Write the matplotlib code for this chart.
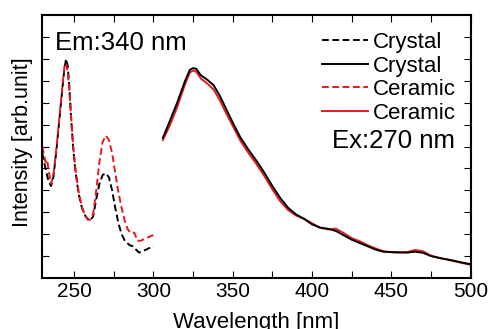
import matplotlib
matplotlib.use("Agg")
import matplotlib.pyplot as plt
from matplotlib.ticker import MultipleLocator

plt.rcParams['font.family'] = ['Liberation Sans', 'DejaVu Sans']

# Excitation spectra (Em: 340 nm), dashed
ex_x_crystal = [230, 232, 234, 235.5, 237, 239, 241, 243, 244, 245, 246, 247, 248, 249.5, 251, 253, 255, 257, 259, 260, 262, 264, 266, 268, 270, 272, 274, 276, 278, 280, 282, 285, 287, 289, 291, 294, 297, 300]
ex_y_crystal = [5.7, 5.0, 4.4, 4.2, 4.6, 5.9, 7.4, 8.9, 9.6, 10.0, 9.7, 8.8, 7.5, 5.9, 4.8, 3.8, 3.2, 2.85, 2.65, 2.62, 2.8, 3.6, 4.3, 4.7, 4.78, 4.6, 4.0, 3.2, 2.5, 2.0, 1.7, 1.5, 1.45, 1.3, 1.16, 1.25, 1.35, 1.46]

ex_x_ceramic = [230, 232, 233, 234, 235.5, 237, 239, 241, 243, 244, 245, 246, 247, 248, 249.5, 251, 253, 255, 257, 259, 260, 262, 264, 266, 268, 270, 272, 274, 276, 278, 280, 282, 284, 286, 288, 290, 292, 295, 298, 300]
ex_y_ceramic = [6.0, 5.3, 5.4, 4.9, 4.3, 4.7, 6.0, 7.5, 9.0, 9.7, 9.8, 9.4, 8.6, 7.5, 6.0, 4.9, 3.9, 3.25, 2.85, 2.68, 2.65, 2.9, 4.0, 5.3, 6.2, 6.5, 6.3, 5.7, 4.8, 3.9, 3.2, 2.6, 2.2, 2.05, 2.07, 1.7, 1.7, 1.8, 1.9, 1.96]

# Emission spectra (Ex: 270 nm), solid
em_x = [306, 310, 315, 320, 323, 325, 327, 330, 334, 338, 342, 346, 350, 355, 360, 365, 370, 375, 380, 385, 390, 395, 400, 405, 410, 415, 420, 425, 430, 435, 440, 445, 450, 455, 460, 465, 470, 475, 480, 485, 490, 495, 500]
em_y_crystal = [6.4, 7.1, 8.0, 9.0, 9.5, 9.58, 9.55, 9.25, 9.05, 8.8, 8.3, 7.7, 7.1, 6.4, 5.85, 5.35, 4.8, 4.2, 3.65, 3.2, 2.9, 2.7, 2.45, 2.3, 2.25, 2.15, 1.95, 1.75, 1.6, 1.45, 1.3, 1.2, 1.18, 1.17, 1.16, 1.2, 1.15, 1.0, 0.92, 0.85, 0.78, 0.7, 0.63]
em_y_ceramic = [6.3, 6.9, 7.8, 8.85, 9.38, 9.47, 9.42, 9.1, 8.88, 8.6, 8.1, 7.5, 6.95, 6.25, 5.7, 5.2, 4.65, 4.05, 3.5, 3.1, 2.85, 2.7, 2.5, 2.3, 2.22, 2.25, 2.05, 1.82, 1.68, 1.5, 1.35, 1.22, 1.18, 1.17, 1.18, 1.28, 1.22, 1.02, 0.92, 0.85, 0.76, 0.68, 0.6]

labels = ['Crystal', 'Crystal', 'Ceramic', 'Ceramic']

fig = plt.figure(figsize=(4.89, 3.29), dpi=100)
ax = fig.add_axes([0.0865, 0.155, 0.876, 0.799])

lw = 1.4
ax.plot(ex_x_crystal, ex_y_crystal, color='black', ls=(0, (3.5, 1.8)), lw=lw, label=labels[0])
ax.plot(em_x, em_y_crystal, color='black', ls='-', lw=lw, label=labels[1], zorder=3)
ax.plot(ex_x_ceramic, ex_y_ceramic, color='#e8191c', ls=(0, (3.5, 1.8)), lw=lw, label=labels[2])
ax.plot(em_x, em_y_ceramic, color='#e8191c', ls='-', lw=lw, label=labels[3], zorder=2)

ax.set_xlim(230, 500)
ax.set_ylim(0, 12)
ax.xaxis.set_major_locator(MultipleLocator(50))
ax.xaxis.set_minor_locator(MultipleLocator(25))
ax.set_yticks(range(1, 12))
ax.set_yticklabels([])
ax.tick_params(axis='both', which='both', direction='in', top=True, right=True, length=5, width=0.8)
ax.tick_params(axis='x', labelsize=15, pad=3)
for s in ax.spines.values():
    s.set_linewidth(1.5)

ax.set_xlabel('Wavelength [nm]', fontsize=16, labelpad=8)
ax.set_ylabel('Intensity [arb.unit]', fontsize=15.5)
ax.yaxis.set_label_coords(-0.022, 0.517)

ax.text(0.03, 0.94, 'Em:340 nm', transform=ax.transAxes, fontsize=18.5, ha='left', va='top')
ax.text(0.963, 0.477, 'Ex:270 nm', transform=ax.transAxes, fontsize=18.5, ha='right', va='bottom')

leg = ax.legend(loc='upper right', bbox_to_anchor=(0.965, 0.935), frameon=False, fontsize=16,
                handlelength=2.1, handletextpad=0.2, labelspacing=0.11, borderpad=0, borderaxespad=0)

fig.savefig('out.png', dpi=100)
